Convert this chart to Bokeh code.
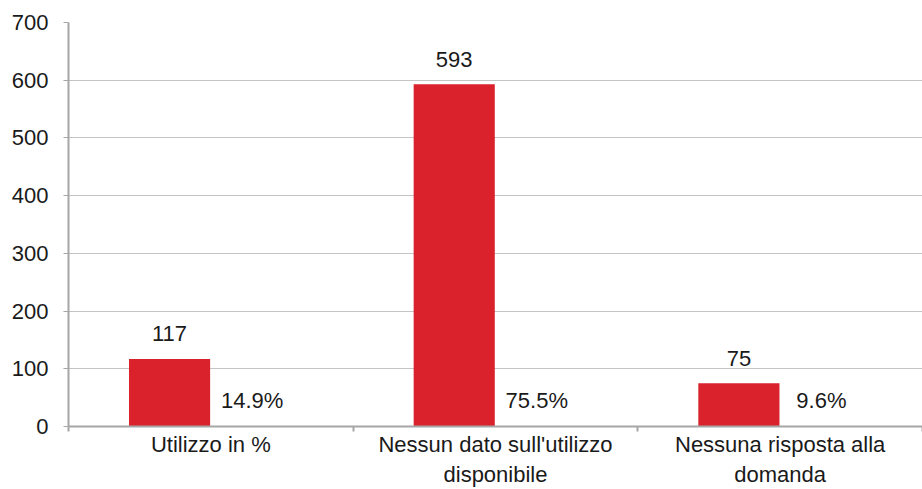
from bokeh.plotting import figure
from bokeh.models import ColumnDataSource, Range1d, FixedTicker
from bokeh.transform import dodge
from bokeh.core.properties import value
from bokeh.embed import file_html
from bokeh.resources import INLINE

# ---- data ----
categories = ["Utilizzo in %", "Nessun dato sull'utilizzo\ndisponibile", "Nessuna risposta alla\ndomanda"]
counts = [117, 593, 75]
shares = [14.9, 75.5, 9.6]
y_ticks = [0, 100, 200, 300, 400, 500, 600, 700]

FONT = "Liberation Sans"
FS = "22px"
RED = "#DA222C"

centers = [i + 0.5 for i in range(len(categories))]
src = ColumnDataSource(dict(
    x=centers,
    count=counts,
    count_label=[str(c) for c in counts],
    share_label=[f"{s:.1f}%" for s in shares],
    zero=[0] * len(counts),
))

p = figure(width=922, height=489, output_backend="svg", toolbar_location=None,
           x_range=Range1d(0, len(categories)), y_range=Range1d(0, 700),
           min_border_left=68, min_border_top=22, min_border_right=0, min_border_bottom=0)
p.outline_line_color = None
p.background_fill_color = "white"
p.border_fill_color = "white"

p.vbar(x=dodge("x", -0.145, range=p.x_range), top="count", width=0.285, bottom=0,
       source=src, fill_color=RED, line_color=None)

p.text(x=dodge("x", -0.145, range=p.x_range), y="count", text="count_label", source=src,
       text_font=value(FONT), text_font_size=FS, text_color="#1a1a1a",
       text_align="center", text_baseline="alphabetic", y_offset=-25)
p.text(x=dodge("x", 0.145, range=p.x_range), y="zero", text="share_label", source=src,
       text_font=value(FONT), text_font_size=FS, text_color="#1a1a1a",
       text_align="center", text_baseline="alphabetic", y_offset=-26)

# y axis
p.yaxis.ticker = FixedTicker(ticks=y_ticks)
p.yaxis.axis_line_color = "#a6a6a6"
p.yaxis.axis_line_width = 2
p.yaxis.major_tick_line_color = "#a6a6a6"
p.yaxis.major_tick_out = 5
p.yaxis.major_tick_in = 0
p.yaxis.minor_tick_line_color = None
p.yaxis.major_label_standoff = 15
p.yaxis.major_label_text_font = FONT
p.yaxis.major_label_text_font_size = FS
p.yaxis.major_label_text_color = "#1a1a1a"

# x axis
p.xaxis.ticker = FixedTicker(ticks=centers, minor_ticks=list(range(len(categories) + 1)))
p.xaxis.major_label_overrides = {c: lab for c, lab in zip(centers, categories)}
p.xaxis.axis_line_color = "#a6a6a6"
p.xaxis.axis_line_width = 2
p.xaxis.major_tick_line_color = None
p.xaxis.major_tick_out = 0
p.xaxis.major_tick_in = 0
p.xaxis.minor_tick_line_color = "#a6a6a6"
p.xaxis.minor_tick_line_width = 2
p.xaxis.minor_tick_out = 5
p.xaxis.minor_tick_in = 0
p.xaxis.major_label_standoff = 0
p.xaxis.major_label_text_font = FONT
p.xaxis.major_label_text_font_size = FS
p.xaxis.major_label_text_color = "#1a1a1a"

p.xgrid.grid_line_color = None
p.ygrid.ticker = FixedTicker(ticks=y_ticks)
p.ygrid.grid_line_color = "#c4c4c4"
p.ygrid.grid_line_width = 1

open("out.html", "w").write(file_html(p, INLINE))
